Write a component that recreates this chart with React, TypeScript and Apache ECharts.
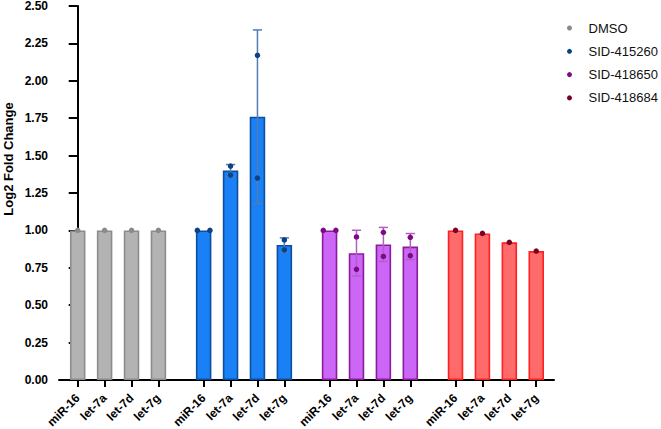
import React, { useEffect, useRef } from "react";
import * as echarts from "echarts";

const categories = ["miR-16", "let-7a", "let-7d", "let-7g"];
const groups = ["DMSO", "SID-415260", "SID-418650", "SID-418684"];

const dmsoMean = [1.0, 1.0, 1.0, 1.0];
const dmsoSD = [0, 0, 0, 0];
const dmsoPoints = [[1.0], [1.0], [1.0], [1.0]];

const sid415260Mean = [1.0, 1.4, 1.76, 0.903];
const sid415260SD = [0, 0.04, 0.58, 0.047];
const sid415260Points = [[1.0, 1.0], [1.43, 1.37], [2.17, 1.35], [0.936, 0.87]];

const sid418650Mean = [1.0, 0.848, 0.906, 0.892];
const sid418650SD = [0, 0.153, 0.114, 0.087];
const sid418650Points = [[1.0, 1.0], [0.956, 0.74], [0.987, 0.826], [0.954, 0.831]];

const sid418684Mean = [1.0, 0.98, 0.92, 0.862];
const sid418684SD = [0, 0, 0, 0];
const sid418684Points = [[1.0], [0.98], [0.92], [0.862]];

const yTicks = [0, 0.25, 0.5, 0.75, 1.0, 1.25, 1.5, 1.75, 2.0, 2.25, 2.5];

const means = [dmsoMean, sid415260Mean, sid418650Mean, sid418684Mean];
const sds = [dmsoSD, sid415260SD, sid418650SD, sid418684SD];
const points = [dmsoPoints, sid415260Points, sid418650Points, sid418684Points];

const fills = ["#b3b3b3", "#1a80f6", "#cc66f7", "#ff6b6b"];
const borders = ["#8c8c8c", "#0b4f9e", "#8a1c9c", "#ff2020"];
const dots = ["#8a8a8a", "#0b4283", "#7d0a85", "#7a0025"];
const errColors = ["#9a9a9a", "#4f7db5", "#b060c4", "#ff5050"];

const GROUP_PITCH = 4.68;
const pos = (g: number, i: number) => g * GROUP_PITCH + i;
const X_MIN = -0.695;
const X_MAX = pos(3, 3) + 0.66;

const FONT = 'Arial, "Liberation Sans", Helvetica, sans-serif';

export default function App() {
  const ref = useRef<HTMLDivElement>(null);
  useEffect(() => {
    if (!ref.current) return;
    const chart = echarts.init(ref.current, undefined, { renderer: "svg" });

    const tickPositions: number[] = [];
    const tickNames: string[] = [];
    groups.forEach((_, g) =>
      categories.forEach((c, i) => {
        tickPositions.push(pos(g, i));
        tickNames.push(c);
      })
    );
    const labelFor = (v: number) => {
      let best = 0;
      let bd = Infinity;
      tickPositions.forEach((p, k) => {
        const d = Math.abs(p - v);
        if (d < bd) {
          bd = d;
          best = k;
        }
      });
      return tickNames[best];
    };

    const series: any[] = [];
    groups.forEach((name, g) => {
      series.push({
        name: name + " (mean)",
        type: "bar",
        barWidth: 15.5,
        barGap: "-100%",
        z: 2,
        itemStyle: { color: fills[g], borderColor: borders[g], borderWidth: 1.6 },
        data: means[g].map((m, i) => [pos(g, i), m]),
      });
      series.push({
        name: name + " (SD)",
        type: "custom",
        z: 3,
        encode: { x: 0, y: 1 },
        data: means[g].map((m, i) => [pos(g, i), m, sds[g][i]]),
        renderItem: (params: any, api: any) => {
          const x = api.value(0);
          const m = api.value(1);
          const sd = api.value(2);
          if (!sd) return { type: "group", children: [] };
          const top = api.coord([x, m + sd]);
          const bot = api.coord([x, m - sd]);
          const hw = 4.6;
          const style = { stroke: errColors[g], lineWidth: 1.5 };
          return {
            type: "group",
            children: [
              { type: "line", shape: { x1: top[0], y1: top[1], x2: bot[0], y2: bot[1] }, style },
              { type: "line", shape: { x1: top[0] - hw, y1: top[1], x2: top[0] + hw, y2: top[1] }, style },
              { type: "line", shape: { x1: bot[0] - hw, y1: bot[1], x2: bot[0] + hw, y2: bot[1] }, style },
            ],
          };
        },
      });
      const pts: any[] = [];
      points[g].forEach((reps, i) => {
        const allEqual = reps.length > 1 && reps.every((r) => r === reps[0]);
        reps.forEach((r, k) => {
          const off = allEqual ? (k === 0 ? -6.3 : 6.3) : 0;
          pts.push({ value: [pos(g, i), r], symbolOffset: [off, 0] });
        });
      });
      series.push({
        name,
        type: "scatter",
        z: 4,
        symbol: "circle",
        symbolSize: 5.5,
        itemStyle: { color: dots[g], opacity: 1 },
        data: pts,
      });
    });

    chart.setOption({
      animation: false,
      backgroundColor: "#ffffff",
      textStyle: { fontFamily: FONT },
      grid: {
        left: 59,
        right: 107,
        top: 6,
        bottom: 49,
        containLabel: false,
        outerBoundsMode: "none",
      },
      legend: {
        orient: "vertical",
        left: 562,
        top: 16,
        itemWidth: 28,
        itemHeight: 5,
        itemGap: 9.3,
        selectedMode: true,
        textStyle: { fontFamily: FONT, fontSize: 13, color: "#111", lineHeight: 14 },
        data: groups.map((n, g) => ({ name: n, icon: "circle", itemStyle: { color: dots[g] } })),
      },
      xAxis: {
        type: "value",
        min: X_MIN,
        max: X_MAX,
        splitLine: { show: false },
        axisLine: { show: true, onZero: false, lineStyle: { color: "#000", width: 2 } },
        axisTick: {
          show: true,
          length: 7,
          customValues: tickPositions,
          lineStyle: { color: "#000", width: 2 },
        },
        axisLabel: {
          show: true,
          customValues: tickPositions,
          rotate: 45,
          margin: 16,
          fontSize: 12,
          fontWeight: "bold",
          color: "#000",
          fontFamily: FONT,
          formatter: (v: number) => labelFor(v),
        },
      },
      yAxis: {
        type: "value",
        min: 0,
        max: 2.5,
        interval: 0.25,
        splitLine: { show: false },
        axisLine: { show: true, lineStyle: { color: "#000", width: 2 } },
        axisTick: { show: true, length: 9, lineStyle: { color: "#000", width: 2 } },
        axisLabel: {
          margin: 11,
          fontSize: 12,
          fontWeight: "bold",
          color: "#000",
          fontFamily: FONT,
          formatter: (v: number) => (yTicks.some((t) => Math.abs(t - v) < 1e-6) ? v.toFixed(2) : ""),
        },
      },
      graphic: [
        {
          type: "text",
          x: 8,
          y: 159,
          rotation: Math.PI / 2,
          style: {
            text: "Log2 Fold Change",
            fontFamily: FONT,
            fontSize: 13,
            fontWeight: "bold",
            fill: "#000",
            align: "center",
            verticalAlign: "middle",
          },
        },
      ],
      series,
    });
    return () => chart.dispose();
  }, []);
  return (
    <div
      ref={ref}
      style={{ position: "fixed", left: 0, top: 0, width: 661, height: 429, background: "#fff" }}
    />
  );
}
